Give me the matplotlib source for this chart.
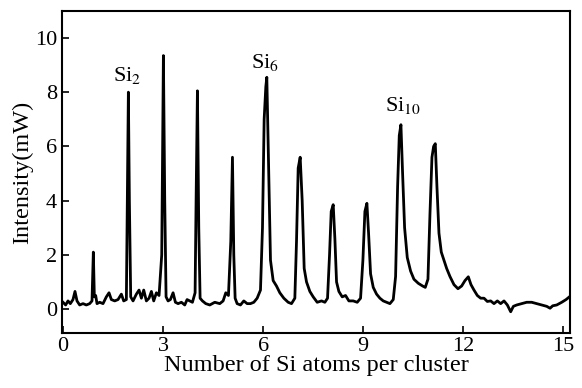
import numpy as np
import matplotlib
matplotlib.use("Agg")
import matplotlib.pyplot as plt

plt.rcParams['font.family'] = ['Liberation Serif', 'DejaVu Serif']
plt.rcParams['mathtext.fontset'] = 'stix'

# traced spectrum: cluster size (x) and intensity in mW (y)
cluster_size = [
    0.00, 0.08, 0.15, 0.22, 0.30, 0.36, 0.42, 0.50, 0.60, 0.70, 0.80, 0.87, 0.91, 0.94, 0.98, 1.02,
    1.10, 1.20, 1.30, 1.38, 1.45, 1.55, 1.65, 1.75, 1.82, 1.90, 1.93, 1.96, 1.99, 2.03, 2.10,
    2.20, 2.28, 2.35, 2.42, 2.50, 2.58, 2.65, 2.72, 2.80, 2.88, 2.96, 3.01, 3.05, 3.09, 3.15,
    3.22, 3.30, 3.37, 3.45, 3.55, 3.65, 3.72, 3.80, 3.88, 3.96, 3.99, 4.03, 4.07, 4.11, 4.18,
    4.28, 4.40, 4.55, 4.70, 4.80, 4.88, 4.96, 5.03, 5.08, 5.12, 5.16, 5.22,
    5.32, 5.42, 5.52, 5.62, 5.72, 5.82, 5.92, 5.98, 6.03, 6.08, 6.11, 6.16, 6.22, 6.30,
    6.40, 6.50, 6.62, 6.75, 6.85, 6.95, 7.00, 7.05, 7.11, 7.17, 7.23, 7.30,
    7.40, 7.50, 7.62, 7.75, 7.85, 7.93, 7.99, 8.04, 8.10, 8.15, 8.20, 8.27,
    8.37, 8.47, 8.57, 8.70, 8.82, 8.92, 8.99, 9.05, 9.11, 9.16, 9.22, 9.30,
    9.40, 9.50, 9.60, 9.70, 9.80, 9.90, 9.97, 10.03, 10.08, 10.13, 10.18, 10.24, 10.32,
    10.42, 10.52, 10.65, 10.78, 10.86, 10.94, 11.00, 11.06, 11.11, 11.16, 11.21, 11.27, 11.34,
    11.42, 11.50, 11.60, 11.72, 11.84, 11.95, 12.05, 12.15, 12.23, 12.32,
    12.42, 12.52, 12.62, 12.72, 12.82, 12.92, 13.02, 13.12, 13.22, 13.32, 13.42, 13.50,
    13.60, 13.75, 13.90, 14.05, 14.20, 14.35, 14.50, 14.60, 14.68, 14.80, 14.95, 15.08, 15.18,
]
intensity = [
    0.25, 0.15, 0.30, 0.20, 0.35, 0.65, 0.30, 0.15, 0.20, 0.15, 0.20, 0.30, 2.10, 0.45, 0.50, 0.20,
    0.25, 0.20, 0.45, 0.60, 0.35, 0.30, 0.35, 0.55, 0.30, 0.35, 4.00, 8.00, 4.00, 0.45, 0.30,
    0.55, 0.70, 0.40, 0.70, 0.30, 0.40, 0.65, 0.30, 0.60, 0.50, 2.00, 9.35, 4.00, 0.45, 0.30,
    0.35, 0.60, 0.25, 0.20, 0.25, 0.15, 0.35, 0.30, 0.25, 0.60, 4.00, 8.05, 3.00, 0.40, 0.30,
    0.20, 0.15, 0.25, 0.20, 0.30, 0.60, 0.50, 2.50, 5.60, 2.00, 0.40, 0.20,
    0.15, 0.30, 0.20, 0.20, 0.25, 0.40, 0.70, 3.00, 7.00, 8.20, 8.55, 5.50, 1.80, 1.05,
    0.85, 0.60, 0.40, 0.25, 0.20, 0.40, 2.50, 5.20, 5.60, 4.00, 1.50, 1.00,
    0.65, 0.45, 0.25, 0.30, 0.25, 0.40, 2.00, 3.60, 3.85, 2.60, 1.00, 0.65,
    0.45, 0.50, 0.30, 0.30, 0.25, 0.40, 1.80, 3.60, 3.90, 2.80, 1.30, 0.80,
    0.55, 0.40, 0.30, 0.25, 0.20, 0.35, 1.20, 4.50, 6.40, 6.80, 5.00, 3.00, 1.90,
    1.40, 1.10, 0.95, 0.85, 0.80, 1.10, 3.50, 5.60, 6.00, 6.10, 4.50, 2.80, 2.10,
    1.80, 1.50, 1.20, 0.90, 0.75, 0.85, 1.05, 1.19, 0.90, 0.70,
    0.50, 0.40, 0.40, 0.28, 0.30, 0.20, 0.30, 0.20, 0.30, 0.15, -0.10, 0.10,
    0.15, 0.20, 0.25, 0.25, 0.20, 0.15, 0.10, 0.03, 0.12, 0.15, 0.25, 0.35, 0.45,
]

peak_labels = ['Si$_2$', 'Si$_6$', 'Si$_{10}$']
label_x = [1.92, 6.06, 10.2]
label_y = [8.6, 9.1, 7.5]

x_ticks = [0, 3, 6, 9, 12, 15]
y_ticks = [0, 2, 4, 6, 8, 10]

fig = plt.figure(figsize=(5.82, 3.88), dpi=100)
ax = fig.add_axes([0.1065, 0.142, 0.873, 0.830])

ax.plot(cluster_size, intensity, color='black', linewidth=2.0)

for lab, lx, ly in zip(peak_labels, label_x, label_y):
    ax.text(lx, ly, lab, fontsize=16, ha='center', va='center')

ax.set_xlim(-0.03, 15.2)
ax.set_ylim(-0.88, 11.0)
ax.set_xticks(x_ticks)
ax.set_yticks(y_ticks)
ax.tick_params(direction='in', length=5, width=1.2, labelsize=16)
ax.tick_params(axis='x', pad=3)
for s in ax.spines.values():
    s.set_linewidth(1.5)

ax.set_xlabel('Number of Si atoms per cluster', fontsize=17.5, labelpad=-1)
ax.set_ylabel('Intensity(mW)', fontsize=17.5, labelpad=1)

fig.savefig('out.png', dpi=100)
